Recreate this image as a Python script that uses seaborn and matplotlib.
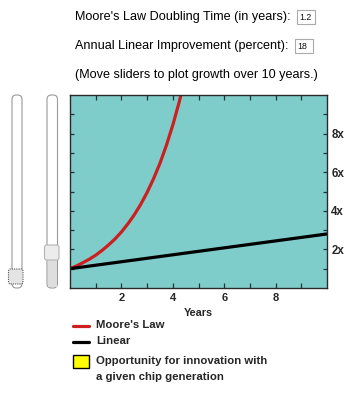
import numpy as np
import pandas as pd
import matplotlib
matplotlib.use("Agg")
import matplotlib.pyplot as plt
import seaborn as sns
from matplotlib.patches import Rectangle, FancyBboxPatch
from matplotlib.lines import Line2D

# ---- data ----
moore_years = [0, 0.25, 0.5, 0.75, 1.0, 1.25, 1.5, 1.75, 2.0, 2.25, 2.5, 2.75,
               3.0, 3.25, 3.5, 3.75, 4.0, 4.25, 4.5]
moore_growth = [1.00, 1.14, 1.31, 1.49, 1.70, 1.95, 2.23, 2.54, 2.90, 3.32, 3.79,
                4.33, 4.95, 5.66, 6.46, 7.39, 8.44, 9.64, 11.02]
linear_years = [0, 10]
linear_growth = [1.0, 2.8]
x_ticks = [2, 4, 6, 8]
y_ticks = [2, 4, 6, 8]
y_tick_labels = ["2x", "4x", "6x", "8x"]
doubling_time = "1.2"
linear_pct = "18"

sns.set_theme(style="ticks")
plt.rcParams["font.family"] = ["Liberation Sans", "DejaVu Sans"]

W, H = 355, 393
fig = plt.figure(figsize=(W / 100, H / 100), dpi=100)

def fx(px):
    return px / W

def fy(py):
    return 1 - py / H

ax = fig.add_axes([fx(70), fy(288), fx(327) - fx(70), fy(95) - fy(288)])
ax.set_facecolor("#7fcdca")

df_m = pd.DataFrame({"Years": moore_years, "Growth": moore_growth})
df_l = pd.DataFrame({"Years": linear_years, "Growth": linear_growth})
sns.lineplot(data=df_m, x="Years", y="Growth", ax=ax, color="#cc2020", lw=2.3)
sns.lineplot(data=df_l, x="Years", y="Growth", ax=ax, color="black", lw=2.3)

ax.set_xlim(0, 10)
ax.set_ylim(0, 10)
ax.set_xticks(x_ticks)
ax.set_xticks([1, 3, 5, 7, 9], minor=True)
ax.set_yticks(y_ticks)
ax.set_yticks([1, 3, 5, 7, 9], minor=True)
ax.set_yticklabels(y_tick_labels)
tick_col = "#1e3535"
ax.tick_params(axis="x", which="both", direction="in", top=True, bottom=True,
               length=3.8, width=0.9, color=tick_col, labelsize=8, pad=3.5)
ax.tick_params(axis="y", which="both", direction="in", left=True, right=True,
               labelleft=False, labelright=True, length=3, width=0.9,
               color=tick_col, labelsize=8.3, pad=3)
for lab in ax.get_xticklabels() + ax.get_yticklabels():
    lab.set_fontweight("bold")
ax.set_xlabel("Years", fontsize=7.8, fontweight="bold", labelpad=4)
ax.set_ylabel("")
for s in ax.spines.values():
    s.set_color("#2a2a2a")
    s.set_linewidth(1.0)

# ---- header texts ----
fs_head = 9.1
fig.text(fx(75), fy(17), "Moore's Law Doubling Time (in years):", fontsize=fs_head,
         va="center", ha="left", color="#000000")
fig.text(fx(75), fy(46), "Annual Linear Improvement (percent):", fontsize=fs_head,
         va="center", ha="left", color="#000000")
fig.text(fx(75), fy(75), "(Move sliders to plot growth over 10 years.)", fontsize=fs_head,
         va="center", ha="left", color="#000000")

for (x0, y0, x1, y1, txt) in [(297, 10, 315, 24, doubling_time), (295, 39, 313, 53, linear_pct)]:
    fig.add_artist(Rectangle((fx(x0), fy(y1)), fx(x1) - fx(x0), fy(y0) - fy(y1),
                             transform=fig.transFigure, facecolor="white",
                             edgecolor="#aaaaaa", lw=0.8))
    fig.text(fx(x0 + 2.5), fy((y0 + y1) / 2 + 0.5), txt, fontsize=6.3, va="center",
             ha="left", color="#111111")

# ---- sliders (decoration) ----
def track(x0, x1, y0, y1):
    fig.add_artist(FancyBboxPatch((fx(x0), fy(y1)), fx(x1) - fx(x0), fy(y0) - fy(y1),
                                  boxstyle="round,pad=0,rounding_size=0.012",
                                  transform=fig.transFigure, facecolor="white",
                                  edgecolor="#9a9a9a", lw=0.8))

track(12, 22, 95, 288)
track(47, 57.5, 95, 288)
# filled part of slider 2
fig.add_artist(Rectangle((fx(48), fy(287)), fx(56.5) - fx(48), fy(259) - fy(287),
                         transform=fig.transFigure, facecolor="#dedede",
                         edgecolor="none"))
# thumbs
fig.add_artist(FancyBboxPatch((fx(8.5), fy(284)), fx(23) - fx(8.5), fy(269) - fy(284),
                              boxstyle="round,pad=0,rounding_size=0.006",
                              transform=fig.transFigure, facecolor="#e4e4e4",
                              edgecolor="#555555", lw=0.8, ls=(0, (1, 1))))
fig.add_artist(FancyBboxPatch((fx(44.5), fy(260)), fx(59) - fx(44.5), fy(245) - fy(260),
                              boxstyle="round,pad=0,rounding_size=0.006",
                              transform=fig.transFigure, facecolor="#ececec",
                              edgecolor="#b5b5b5", lw=0.8))

# ---- legend (manual) ----
fs_leg = 8.2
fig.add_artist(Line2D([fx(73), fx(89)], [fy(325.5), fy(325.5)], color="#cc2020",
                      lw=2.3, transform=fig.transFigure))
fig.add_artist(Line2D([fx(73), fx(89)], [fy(341.5), fy(341.5)], color="black",
                      lw=2.3, transform=fig.transFigure))
fig.add_artist(Rectangle((fx(73), fy(368)), fx(89) - fx(73), fy(355) - fy(368),
                         transform=fig.transFigure, facecolor="#ffff00",
                         edgecolor="black", lw=1.0))
fig.text(fx(96), fy(325.5), "Moore's Law", fontsize=fs_leg, fontweight="bold",
         va="center", ha="left")
fig.text(fx(96), fy(341.5), "Linear", fontsize=fs_leg, fontweight="bold",
         va="center", ha="left")
fig.text(fx(96), fy(361.5), "Opportunity for innovation with", fontsize=fs_leg,
         fontweight="bold", va="center", ha="left")
fig.text(fx(96), fy(377), "a given chip generation", fontsize=fs_leg,
         fontweight="bold", va="center", ha="left")

fig.savefig("out.png", dpi=100, facecolor="white")
